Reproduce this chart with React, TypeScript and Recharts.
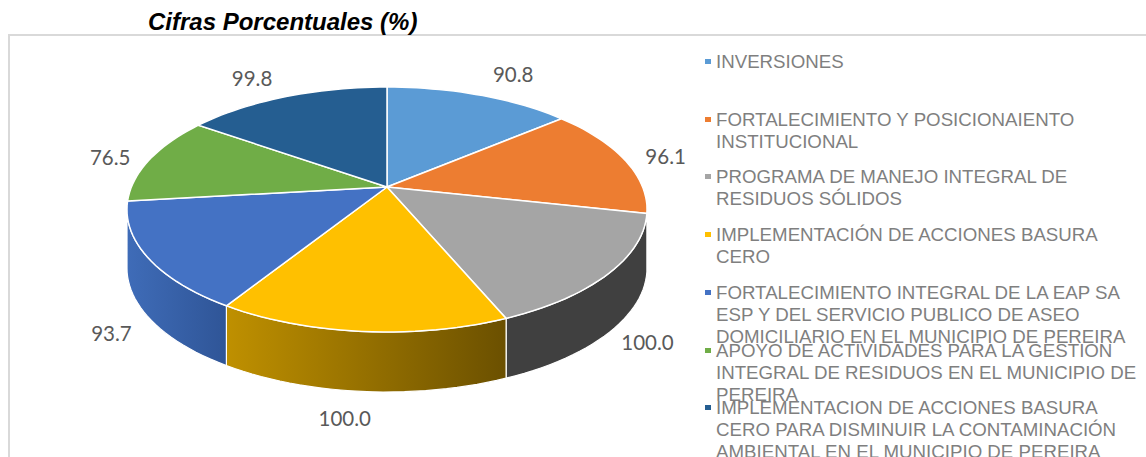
import React from 'react';
import { Legend, Pie, PieChart } from 'recharts';

const categories = [
  'INVERSIONES',
  'FORTALECIMIENTO Y POSICIONAIENTO INSTITUCIONAL',
  'PROGRAMA DE MANEJO INTEGRAL DE RESIDUOS SÓLIDOS',
  'IMPLEMENTACIÓN DE ACCIONES BASURA CERO',
  'FORTALECIMIENTO INTEGRAL DE LA EAP SA ESP Y DEL SERVICIO PUBLICO DE ASEO DOMICILIARIO EN EL MUNICIPIO DE PEREIRA',
  'APOYO DE ACTIVIDADES PARA LA GESTION INTEGRAL DE RESIDUOS EN EL MUNICIPIO DE PEREIRA',
  'IMPLEMENTACION DE ACCIONES BASURA CERO PARA DISMINUIR LA CONTAMINACIÓN AMBIENTAL EN EL MUNICIPIO DE PEREIRA',
];
const values = [90.8, 96.1, 100.0, 100.0, 93.7, 76.5, 99.8];
const topColors = ['#5b9bd5', '#ed7d31', '#a5a5a5', '#ffc000', '#4472c4', '#70ad47', '#255e91'];
const wallFrom = ['#2e75b6', '#c55a11', '#404040', '#bf9000', '#3f6cb8', '#548235', '#1e4e79'];
const wallTo = ['#2e75b6', '#c55a11', '#404040', '#6b5000', '#2f5597', '#548235', '#1e4e79'];
// label nudge from the pie rim, one per slice
const labelDx = [34, 41, 38, -17, -36, -40, -34];
const labelDy = [-21, -4, 10, 27, 17, -2, -19];

const rows = categories.map((name, i) => ({ name, value: values[i], fill: topColors[i] }));

const WIDTH = 1146;
const HEIGHT = 457;
const CX = 387;
const CY = 187;
const RADIUS = 255.6;
const TILT = 0.3286; // vertical squash of the disc
const PERSPECTIVE = -0.1837; // front of the disc comes closer
const WALL = 58;
const RAD = Math.PI / 180;

// angle is the recharts one: 90 at 12 o'clock, falling clockwise
const rimPoint = (cx: number, cy: number, r: number, angle: number) => {
  const u = Math.cos(angle * RAD);
  const v = -Math.sin(angle * RAD);
  const d = 1 + PERSPECTIVE * v;
  return { x: cx + (r * u) / d, y: (cy + r * TILT * v) / d, v };
};

const arcPoints = (cx: number, cy: number, r: number, from: number, to: number) => {
  const steps = Math.max(2, Math.ceil(Math.abs(from - to) / 2));
  const out: { x: number; y: number; v: number }[] = [];
  for (let i = 0; i <= steps; i++) out.push(rimPoint(cx, cy, r, from + ((to - from) * i) / steps));
  return out;
};

const toPath = (pts: { x: number; y: number }[]) => pts.map(p => `${p.x.toFixed(1)},${p.y.toFixed(1)}`).join(' L ');

// walls only show below the side silhouette of the disc
const WALL_START = -Math.asin(-PERSPECTIVE) / RAD;
const WALL_END = -180 + Math.asin(-PERSPECTIVE) / RAD;

const DiscSlice = (props: any) => {
  const { cx, cy, outerRadius, startAngle, endAngle, fill, name } = props;
  const index = categories.indexOf(name);
  const top = arcPoints(cx, cy, outerRadius, startAngle, endAngle);
  const wFrom = Math.min(startAngle, WALL_START);
  const wTo = Math.max(endAngle, WALL_END);
  let wall = null;
  if (wFrom > wTo) {
    const upper = arcPoints(cx, cy, outerRadius, wFrom, wTo);
    const lower = upper.map(p => ({ x: p.x, y: p.y + WALL + 2 * p.v })).reverse();
    wall = (
      <path
        d={`M ${toPath(upper)} L ${toPath(lower)} Z`}
        fill={`url(#wall-${index})`}
        stroke="#ffffff"
        strokeWidth={1.2}
      />
    );
  }
  return (
    <g>
      <defs>
        <linearGradient id={`wall-${index}`} x1="0" y1="0" x2="1" y2="0">
          <stop offset="0%" stopColor={wallFrom[index]} />
          <stop offset="100%" stopColor={wallTo[index]} />
        </linearGradient>
      </defs>
      {wall}
      <path d={`M ${cx},${cy} L ${toPath(top)} Z`} fill={fill} stroke="#ffffff" strokeWidth={1.5} />
    </g>
  );
};

const SliceLabel = (props: any) => {
  const { cx, cy, outerRadius, midAngle, index } = props;
  const p = rimPoint(cx, cy, outerRadius, midAngle);
  const wall = p.v > 0 ? WALL + 2 * p.v : 0;
  return (
    <text
      x={p.x + labelDx[index]}
      y={p.y + wall + labelDy[index]}
      textAnchor="middle"
      dominantBaseline="central"
      fill="#595959"
      fontFamily="Lato, sans-serif"
      fontSize={20.5}
    >
      {values[index].toFixed(1)}
    </text>
  );
};

const LegendList = ({ payload }: any) => (
  <div style={{ position: 'absolute', left: 0, top: 0 }}>
    {(payload || []).map((entry: any, i: number) => (
      <div key={entry.value} style={{ position: 'absolute', left: 705, top: 51 + i * 57.7, width: 441 }}>
        <span style={{ position: 'absolute', left: 0, top: 8, width: 6, height: 5, background: entry.color }} />
        <div style={{ marginLeft: 11, lineHeight: '22px', fontSize: 18.7, color: '#7f7f7f', fontFamily: '"Liberation Sans", Arial, sans-serif' }}>
          {entry.value}
        </div>
      </div>
    ))}
  </div>
);

export default function App() {
  return (
    <div style={{ position: 'absolute', left: 0, top: 0, width: WIDTH, height: HEIGHT, overflow: 'hidden', background: '#ffffff' }}>
      <div style={{ position: 'absolute', left: 8, top: 34, width: WIDTH, height: HEIGHT, border: '2px solid #d9d9d9', boxSizing: 'border-box' }} />
      <div style={{ position: 'absolute', left: 148, top: 8, fontFamily: '"Liberation Sans", Arial, sans-serif', fontWeight: 'bold', fontStyle: 'italic', fontSize: 24, lineHeight: '28px', color: '#000000', whiteSpace: 'nowrap' }}>
        Cifras Porcentuales (%)
      </div>
      <PieChart width={WIDTH} height={HEIGHT} margin={{ top: 0, right: 0, bottom: 0, left: 0 }} style={{ position: 'absolute', left: 0, top: 0 }}>
        <Pie
          data={rows}
          dataKey="value"
          nameKey="name"
          cx={CX}
          cy={CY}
          outerRadius={RADIUS}
          startAngle={90}
          endAngle={-270}
          stroke="none"
          shape={DiscSlice}
          label={SliceLabel}
          labelLine={false}
          isAnimationActive={false}
        />
        <Legend content={LegendList} itemSorter={null} wrapperStyle={{ position: 'absolute', left: 0, top: 0, width: 0, height: 0 }} />
      </PieChart>
    </div>
  );
}
